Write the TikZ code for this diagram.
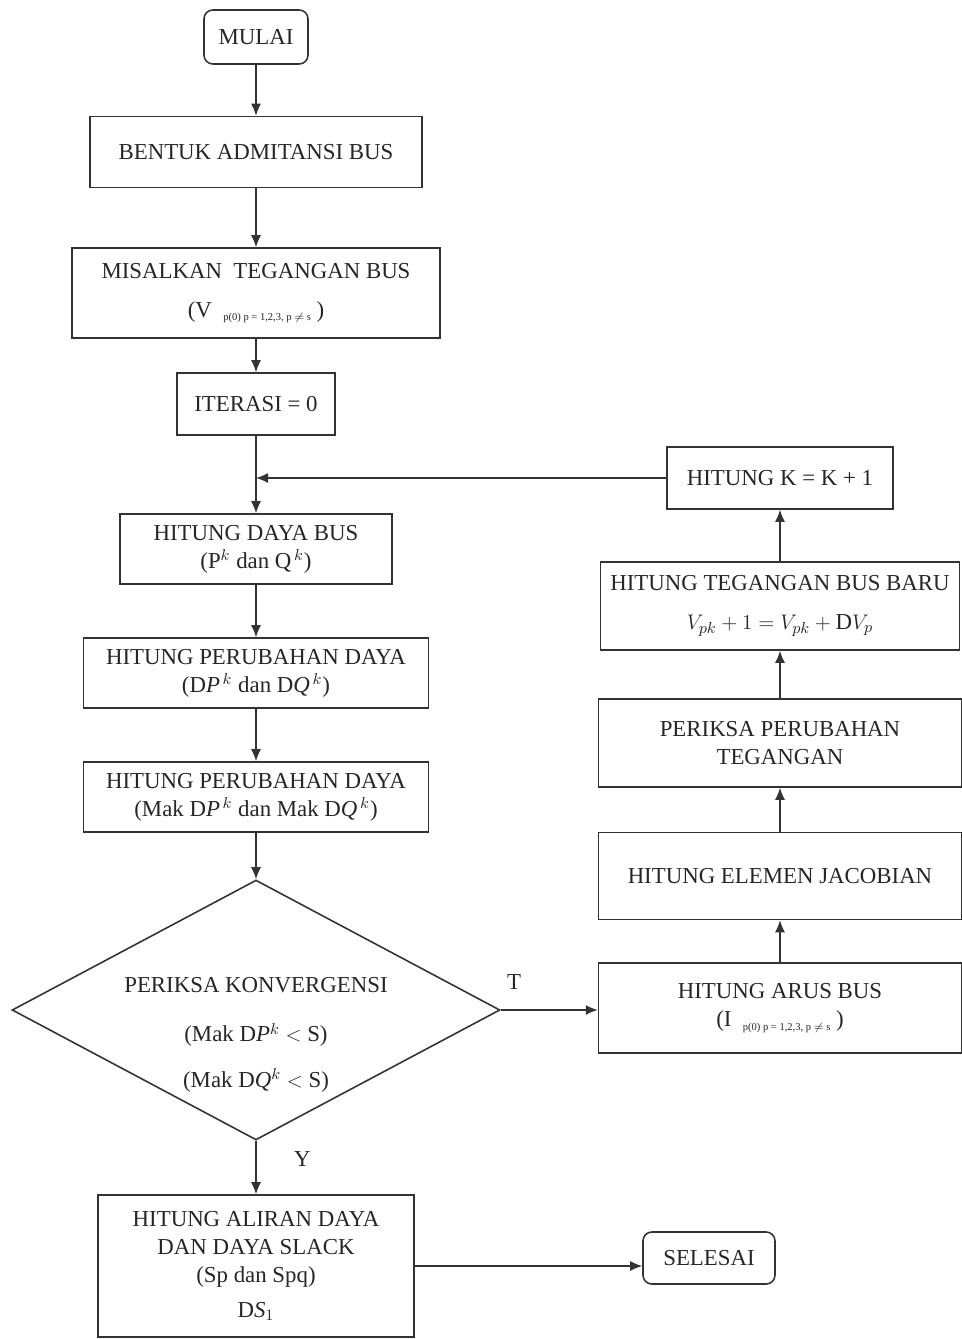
\documentclass[tikz,border=0pt]{standalone}
\usepackage{fontspec}
\setmainfont{Liberation Serif}
\usepackage{tikz}
\usetikzlibrary{arrows.meta, shapes.geometric}

\begin{document}
\begin{tikzpicture}[x=0.02cm, y=-0.02cm,
  box/.style={rectangle, draw=black!80, line width=0.9pt, align=center, inner sep=2pt,
    font=\fontsize{13}{16}\selectfont, text=black!85},
  term/.style={box, rounded corners=5pt},
  dia/.style={diamond, draw=black!80, line width=0.9pt, minimum width=9.76cm,
    minimum height=5.2cm, inner sep=0pt},
  lbl/.style={font=\fontsize{13}{16}\selectfont, text=black!85, align=center},
  e/.style={-{Latex[length=2.4mm, width=2mm]}, line width=0.7pt, draw=black!80}]
  \useasboundingbox (0,0) rectangle (961,1339);
  % kolom kiri
  \node[term, minimum width=2.08cm, minimum height=1.08cm] (mulai) at (256,37) {MULAI};
  \node[box, minimum width=6.64cm, minimum height=1.42cm] (ybus) at (256,152) {BENTUK ADMITANSI BUS};
  \node[box, minimum width=7.36cm, minimum height=1.8cm] (misal) at (256,293)
    {MISALKAN\ \ TEGANGAN BUS\\[6pt](V\ \ {\fontsize{6}{7}\selectfont\raisebox{-2pt}{p(0) p = 1,2,3, p $\neq$\ s}}\ )};
  \node[box, minimum width=3.16cm, minimum height=1.24cm] (iter) at (256,404) {ITERASI = 0};
  \coordinate (jn) at (256,478);
  \node[box, minimum width=5.44cm, minimum height=1.4cm] (daya) at (256,549)
    {HITUNG DAYA BUS\\(P$^{k}$\ dan Q$^{\,k}$)};
  \node[box, minimum width=6.9cm, minimum height=1.4cm] (dpq) at (256,673)
    {HITUNG PERUBAHAN DAYA\\(D\textit{P}$^{\,k}$\ dan D\textit{Q}$^{\,k}$)};
  \node[box, minimum width=6.9cm, minimum height=1.4cm] (mak) at (256,797)
    {HITUNG PERUBAHAN DAYA\\(Mak D\textit{P}$^{\,k}$\ dan Mak D\textit{Q}$^{\,k}$)};
  \node[dia] (cek) at (256,1010) {};
  \node[lbl] (cekt) at (256,1035)
    {PERIKSA KONVERGENSI\\[12pt](Mak D\textit{P}$^{k}$ $<$ S)\\[10pt](Mak D\textit{Q}$^{k}$ $<$ S)};
  \node[box, minimum width=6.32cm, minimum height=2.84cm] (alir) at (256,1266)
    {HITUNG ALIRAN DAYA\\DAN DAYA SLACK\\(Sp dan Spq)\\[4pt]D\textit{S}$_{1}$};
  \node[term, minimum width=2.64cm, minimum height=1.04cm] (selesai) at (709,1258) {SELESAI};
  % kolom kanan
  \node[box, minimum width=7.26cm, minimum height=1.8cm] (arus) at (780,1008)
    {HITUNG ARUS BUS\\(I\ \ {\fontsize{6}{7}\selectfont\raisebox{-2pt}{p(0) p = 1,2,3, p $\neq$\ s}}\ )};
  \node[box, minimum width=7.26cm, minimum height=1.74cm] (jac) at (780,876) {HITUNG ELEMEN JACOBIAN};
  \node[box, minimum width=7.26cm, minimum height=1.76cm] (cekv) at (780,743) {PERIKSA PERUBAHAN\\TEGANGAN};
  \node[box, minimum width=7.18cm, minimum height=1.76cm] (vbaru) at (780,606)
    {HITUNG TEGANGAN BUS BARU\\[6pt]$V_{pk}+1=V_{pk}+\mathrm{D}V_{p}$};
  \node[box, minimum width=4.52cm, minimum height=1.24cm] (iterk) at (780,478) {HITUNG K = K + 1};
  % alur
  \draw[e] (mulai) -- (ybus);
  \draw[e] (ybus) -- (misal);
  \draw[e] (misal) -- (iter);
  \draw[line width=0.7pt, black!80] (iter) -- (jn);
  \draw[e] (jn) -- (daya);
  \draw[e] (daya) -- (dpq);
  \draw[e] (dpq) -- (mak);
  \draw[e] (mak) -- (cek);
  \draw[e] (cek.south) -- node[lbl, pos=0.35, right=18pt]{Y} (alir);
  \draw[e] (cek.east) -- node[lbl, at start, above right, yshift=8pt]{T} (cek.east -| arus.west);
  \draw[e] (alir) -- (alir -| selesai.west);
  \draw[e] (arus) -- (jac);
  \draw[e] (jac) -- (cekv);
  \draw[e] (cekv) -- (vbaru);
  \draw[e] (vbaru) -- (iterk);
  \draw[e] (iterk) -- (jn);
\end{tikzpicture}
\end{document}
